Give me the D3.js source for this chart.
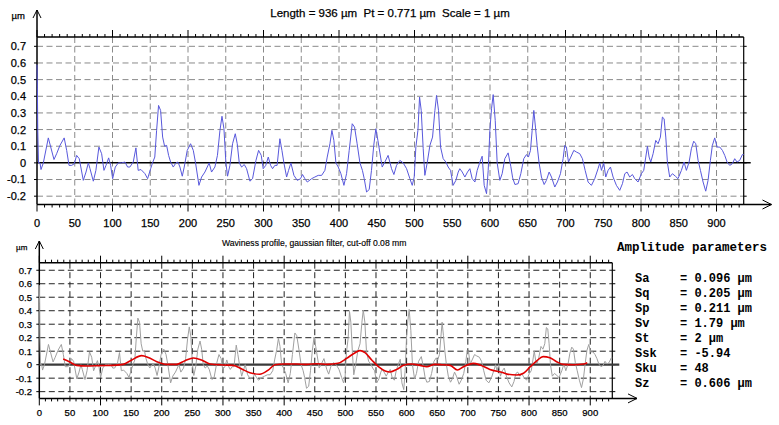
<html>
<head>
<meta charset="utf-8">
<script src='https://d3js.org/d3.v7.min.js'></script>
<style>
body {margin:0; background:#fff;}
text {font-family: "Liberation Sans", Arial, sans-serif; fill:#000; stroke:#000; stroke-width:0.25;}
.mono {font-family: "Liberation Mono", "Courier New", monospace; font-weight:bold; stroke:none;}
</style>
</head>
<body>
<svg width=779 height=425></svg>
<script>
// primary profile (um), x positions along length (um)
var profileX = [0,0.5,1,2,4,5.3,8.4,15,22.5,26,30.4,36,39.3,42.4,45.9,49.4,52.5,56,61.3,64.9,68,70.2,74.6,78,82,85.6,88.7,91.4,94.9,97.5,100.2,103.7,107.7,112,116.5,120,123,127.5,131,134,137.7,143,146.5,150.5,153,156,158.4,161,163.7,166.4,169,171.7,174.3,177,180.5,184,186.7,189.3,192.4,195,199,203.4,207,210,214.5,218,222.4,225.5,228,231.2,235.6,239,242.3,245,247.6,250.2,252.4,255.5,259,262.6,265.2,267.9,271,274.5,277.6,282,285.5,290,293.5,297,299.6,303,306.3,309.4,312,315,318,321.7,324.4,327,330.6,333.2,336.3,340.3,344.7,349,351.7,354.8,358,363.7,368,372.5,377,381.3,384.4,388,390.6,393.2,395.9,399,402.5,406.5,410,413.5,417.5,420.6,424,427.7,431,433.4,436.5,440,443,446,448.8,451.5,454,457.2,460.7,465,469.6,472.7,476.2,480.6,485,489.5,493.9,497,499.6,501.8,504.5,506.7,508.9,511.5,513.7,516.8,520.4,523.9,527,529.2,531.8,534.5,538,541.5,544.6,547.7,551.2,554.8,557.9,560,563.2,566.7,570.2,573.3,576.4,580,583,586.6,589.6,592.3,595.4,597.6,599.8,602,604.2,606.9,609.5,613,616.1,619.6,624,627.5,630,633,637.2,640.8,644.7,648.3,650.9,653.6,655.8,658,660.2,662.4,665,668.1,671.7,674.7,678.3,681.4,685.8,689.3,693.3,696.8,699,701.2,703.9,707,711,714.5,718.9,722.4,726,729.9,734.3,738.7,743.1,745.4,747.6,750.6,753.3,756.4,759.5,763,767.4,771.8,775.4,778.5,781.5,785,788.6,791.7,796.1,800.5,803.6,806.3,808.5,810.7,812.9,816,819.5,822.6,825.7,828.3,830.6,832.8,835,838,841.6,845.5,849,853.5,857,860.1,863.7,866.7,869.8,872.5,875.6,878.7,882.2,885.7,888.8,891.9,894.5,897.6,900.7,904.3,907.8,910.9,914,917.5,921,924.1,927.2,930.7,934.3,936];
var profileY = [0.59,0.45,0.2,0.0,0.0,-0.04,0.0,0.15,0.02,0.055,0.105,0.15,0.075,-0.015,-0.015,-0.005,0.045,0.025,-0.105,-0.055,0.0,-0.035,-0.11,-0.045,0.095,0.055,-0.045,-0.015,0.03,-0.015,-0.095,-0.025,0.0,0.0,0.005,-0.025,-0.025,0.005,0.09,-0.045,-0.04,-0.065,-0.095,-0.035,0.0,0.035,0.195,0.345,0.315,0.155,0.1,0.105,0.045,0.005,-0.025,0.0,0.005,-0.025,-0.08,-0.025,0.075,0.115,0.075,0.0,-0.135,-0.085,-0.055,-0.025,0.0,-0.055,-0.025,0.045,0.195,0.28,0.205,0.0,-0.08,-0.015,0.115,0.175,0.115,0.0,-0.025,-0.01,-0.035,-0.11,-0.095,0.015,0.075,0.045,-0.035,-0.015,0.035,-0.015,-0.035,-0.015,-0.015,0.145,0.075,0.0,-0.085,-0.045,0.0,-0.075,-0.105,-0.095,-0.07,-0.095,-0.115,-0.095,-0.085,-0.075,-0.075,-0.045,0.035,0.115,0.195,0.135,0.0,-0.025,-0.065,-0.135,-0.065,0.075,0.235,0.215,0.115,0.0,-0.045,-0.095,-0.175,-0.16,-0.045,0.105,0.205,0.135,0.065,-0.025,0.005,0.045,-0.035,-0.07,-0.015,0.015,0.0,-0.035,-0.095,-0.135,-0.085,0.095,0.195,0.395,0.315,0.085,-0.075,0.0,0.105,0.155,0.315,0.405,0.315,0.095,0.025,0.005,-0.025,-0.045,-0.135,-0.105,-0.055,-0.035,-0.055,-0.085,-0.055,-0.035,-0.095,-0.115,-0.045,0.005,0.04,-0.135,-0.185,-0.045,0.195,0.325,0.41,0.255,0.0,-0.105,-0.065,0.025,0.06,-0.02,-0.09,-0.13,-0.125,-0.065,0.025,0.05,0.035,0.075,0.195,0.315,0.215,0.105,0.0,-0.085,-0.13,-0.105,-0.055,-0.085,-0.145,-0.115,-0.065,0.025,0.105,0.095,0.005,0.035,0.075,0.065,0.055,0.025,-0.045,-0.115,-0.135,-0.095,-0.035,0.0,-0.045,0.0,-0.085,-0.045,-0.025,-0.085,-0.135,-0.165,-0.125,-0.065,-0.055,-0.085,-0.07,-0.095,-0.115,-0.065,-0.045,0.035,0.1,0.035,0.005,0.055,0.135,0.115,0.155,0.275,0.265,0.155,0.0,-0.085,-0.065,-0.08,-0.095,-0.045,0.005,-0.045,0.005,0.085,0.13,0.115,0.015,-0.045,-0.115,-0.17,-0.105,0.015,0.105,0.15,0.095,0.095,0.075,0.045,0.005,-0.015,-0.005,0.025,0.005,0.015,0.05,0.05];

// waviness profile (gaussian filter)
var waveX = [39,49,61,77,99,121,137,151,167,178,192,208,224,238,252,265,279,301,317,330,344,360,374,385,399,420,437,453,470,488,502,516,524,532,543,554,565,573,584,595,608,622,633,646,657,671,683,693,709,720,736,758,764,780,791,802,813,823,834,845,856,872,889,895];
var waveY = [0.042,0.022,-0.005,-0.01,-0.007,-0.005,0.002,0.035,0.067,0.054,0.022,0.002,0.002,0.03,0.05,0.035,0.005,-0.002,-0.005,-0.03,-0.06,-0.071,-0.04,0.0,0.005,0.005,0.002,0.007,0.002,0.01,0.047,0.089,0.104,0.089,0.035,-0.015,-0.047,-0.054,-0.035,-0.005,0.005,-0.005,-0.015,0.002,0.0,-0.005,-0.04,-0.015,0.01,-0.002,-0.035,-0.06,-0.07,-0.077,-0.064,-0.015,0.03,0.06,0.052,0.022,0.002,0.0,0.005,0.015];

var yTicks = [0.7,0.6,0.5,0.4,0.3,0.2,0.1,0,-0.1,-0.2];
var xTicks = [0,50,100,150,200,250,300,350,400,450,500,550,600,650,700,750,800,850,900];
var profileLength = 936;

var paramNames = ["Sa","Sq","Sp","Sv","St","Ssk","Sku","Sz"];
var paramValues = ["0.096 \u00b5m","0.205 \u00b5m","0.211 \u00b5m","1.79 \u00b5m","2 \u00b5m","-5.94","48","0.606 \u00b5m"];

var svg = d3.select("svg");

function panel(o) {
  var x = d3.scaleLinear().domain([0, profileLength]).range([o.left, o.right]);
  var y = d3.scaleLinear().domain([-0.25, 0.756]).range([o.bottom, o.top]);
  var g = svg.append("g");

  // grid
  g.selectAll(".hg").data(yTicks.filter(function(d){return d!==0;})).enter().append("line")
    .attr("x1", o.left).attr("x2", o.right).attr("y1", d => y(d)).attr("y2", d => y(d))
    .attr("stroke", o.grid).attr("stroke-dasharray", "6,3.5");
  g.selectAll(".vg").data(xTicks.slice(1)).enter().append("line")
    .attr("x1", d => x(d)).attr("x2", d => x(d)).attr("y1", o.top).attr("y2", o.bottom)
    .attr("stroke", o.grid).attr("stroke-dasharray", "6,3.5");

  // frame ticks
  var minor = d3.range(0, profileLength, 10);
  g.selectAll(".tt").data(minor).enter().append("line")
    .attr("x1", d => x(d)).attr("x2", d => x(d))
    .attr("y1", d => d % 100 === 0 ? o.top - 7 : o.top - 3).attr("y2", o.top)
    .attr("stroke", "#000");
  g.selectAll(".bt").data(minor).enter().append("line")
    .attr("x1", d => x(d)).attr("x2", d => x(d))
    .attr("y1", o.bottom).attr("y2", d => d % 100 === 0 ? o.bottom + 7 : o.bottom + 3)
    .attr("stroke", "#000");
  g.selectAll(".lt").data(yTicks).enter().append("line")
    .attr("x1", o.left - 3).attr("x2", o.left).attr("y1", d => y(d)).attr("y2", d => y(d)).attr("stroke", "#000");
  g.selectAll(".rt").data(yTicks).enter().append("line")
    .attr("x1", o.right).attr("x2", o.right + 3).attr("y1", d => y(d)).attr("y2", d => y(d)).attr("stroke", "#000");

  // frame
  g.append("line").attr("x1", o.left).attr("x2", o.right).attr("y1", o.top).attr("y2", o.top).attr("stroke", "#000").attr("stroke-width", 1.5);
  g.append("line").attr("x1", o.right).attr("x2", o.right).attr("y1", o.top).attr("y2", o.bottom).attr("stroke", "#000").attr("stroke-width", 1.2);
  g.append("line").attr("x1", o.left).attr("x2", o.arrowX).attr("y1", o.bottom).attr("y2", o.bottom).attr("stroke", "#000").attr("stroke-width", 1.5);
  g.append("path").attr("d", "M" + (o.arrowX - 9) + "," + (o.bottom - 4.5) + "L" + o.arrowX + "," + o.bottom + "L" + (o.arrowX - 9) + "," + (o.bottom + 4.5))
    .attr("fill", "none").attr("stroke", "#000");
  g.append("line").attr("x1", o.left).attr("x2", o.left).attr("y1", o.bottom).attr("y2", o.arrowY).attr("stroke", "#000").attr("stroke-width", 1.5);
  g.append("path").attr("d", "M" + (o.left - 4) + "," + (o.arrowY + 8) + "L" + o.left + "," + o.arrowY + "L" + (o.left + 4) + "," + (o.arrowY + 8))
    .attr("fill", "none").attr("stroke", "#000");

  // zero line
  g.append("line").attr("class", "zero").attr("x1", o.left).attr("x2", o.right + 7).attr("y1", y(0)).attr("y2", y(0))
    .attr("stroke", o.zero).attr("stroke-width", o.zeroW);

  // labels
  g.selectAll(".yl").data(yTicks).enter().append("text")
    .attr("x", o.yLabelX).attr("y", d => y(d) + o.fs * 0.36).attr("text-anchor", "end")
    .attr("font-size", o.fs).text(d => String(d));
  g.selectAll(".xl").data(xTicks).enter().append("text")
    .attr("x", d => x(d)).attr("y", o.xLabelY).attr("text-anchor", "middle")
    .attr("font-size", o.fs).text(d => d);
  g.append("text").attr("x", o.left - 12).attr("y", o.arrowY + 9).attr("text-anchor", "end")
    .attr("font-size", o.fs - 1.5).text("\u00b5m");

  return {x: x, y: y, g: g};
}

var upper = panel({left: 37, right: 743.7, top: 37, bottom: 204.5, arrowX: 771.5, arrowY: 10,
  grid: "#8a8a8a", zero: "#000", zeroW: 1.5, fs: 11, yLabelX: 26, xLabelY: 227});
upper.g.append("path").datum(profileX)
  .attr("d", d3.line().x(d => upper.x(d)).y((d, i) => upper.y(profileY[i])))
  .attr("fill", "none").attr("stroke", "#5858dc").attr("stroke-width", 1);

var lower = panel({left: 39.3, right: 612.3, top: 262.7, bottom: 398.4, arrowX: 637, arrowY: 241,
  grid: "#222", zero: "#3a3a3a", zeroW: 2.2, fs: 9.5, yLabelX: 32, xLabelY: 416});
lower.g.append("path").datum(profileX)
  .attr("d", d3.line().x(d => lower.x(d)).y((d, i) => lower.y(profileY[i])))
  .attr("fill", "none").attr("stroke", "#a0a0a0").attr("stroke-width", 1);
lower.g.append("path").datum(waveX)
  .attr("d", d3.line().curve(d3.curveMonotoneX).x(d => lower.x(d)).y((d, i) => lower.y(waveY[i])))
  .attr("fill", "none").attr("stroke", "#e00000").attr("stroke-width", 1.6);

// titles
svg.append("text").attr("x", 390).attr("y", 17).attr("text-anchor", "middle").attr("font-size", 11.5)
  .style("white-space", "pre")
  .text("Length = 936 \u00b5m  Pt = 0.771 \u00b5m  Scale = 1 \u00b5m");
svg.append("text").attr("x", 222).attr("y", 246).attr("font-size", 8.6).style("stroke-width", 0.15)
  .text("Waviness profile, gaussian filter, cut-off 0.08 mm");

// amplitude parameters
svg.append("text").attr("class", "mono").attr("x", 617).attr("y", 251).attr("font-size", 12.5).text("Amplitude parameters");
var pg = svg.append("g");
pg.selectAll(".pn").data(paramNames).enter().append("text").attr("class", "mono")
  .attr("x", 635).attr("y", (d, i) => 282 + i * 15).attr("font-size", 12).text(d => d);
pg.selectAll(".pv").data(paramValues).enter().append("text").attr("class", "mono")
  .attr("x", 680).attr("y", (d, i) => 282 + i * 15).attr("font-size", 12)
  .style("white-space", "pre").text(d => "= " + d);
</script>
</body>
</html>
